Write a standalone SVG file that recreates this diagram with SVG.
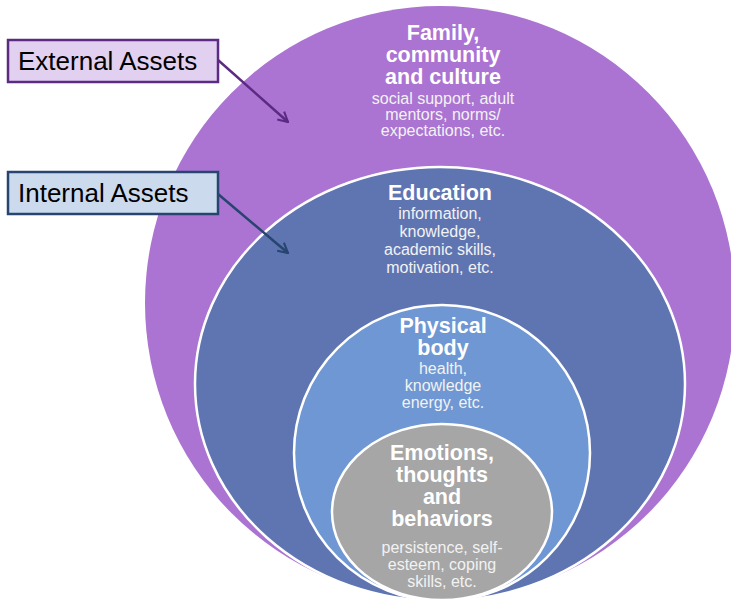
<svg xmlns="http://www.w3.org/2000/svg" width="731" height="602" viewBox="0 0 731 602">
  <defs>
    <style>
      .ring { stroke: #ffffff; stroke-width: 2.5; }
      .title { font-family: "Liberation Sans", Arial, sans-serif; font-weight: bold; font-size: 21.5px; fill: #ffffff; text-anchor: middle; }
      .sub { font-family: "Liberation Sans", Arial, sans-serif; font-size: 16px; fill: #f2f2f2; text-anchor: middle; }
      .label { font-family: "Liberation Sans", Arial, sans-serif; font-size: 26px; fill: #000000; }
    </style>
    <marker id="headExt" viewBox="0 0 10 10" refX="9" refY="5" markerWidth="13" markerHeight="13" orient="auto" markerUnits="userSpaceOnUse">
      <path d="M1.5,1 L9,5 L1.5,9" fill="none" stroke="#5b2a82" stroke-width="1.6"/>
    </marker>
    <marker id="headInt" viewBox="0 0 10 10" refX="9" refY="5" markerWidth="13" markerHeight="13" orient="auto" markerUnits="userSpaceOnUse">
      <path d="M1.5,1 L9,5 L1.5,9" fill="none" stroke="#27456f" stroke-width="1.6"/>
    </marker>
  </defs>

  <rect width="731" height="602" fill="#ffffff"/>

  <g id="family">
    <ellipse cx="440" cy="303" rx="295" ry="297" fill="#ab74d2"/>
    <text class="title" x="443" y="40">Family,</text>
    <text class="title" x="443" y="62">community</text>
    <text class="title" x="443" y="84">and culture</text>
    <text class="sub" x="443" y="104">social support, adult</text>
    <text class="sub" x="443" y="120">mentors, norms/</text>
    <text class="sub" x="443" y="136">expectations, etc.</text>
  </g>

  <g id="education">
    <ellipse class="ring" cx="440" cy="384" rx="245" ry="217" fill="#5f75b2"/>
    <text class="title" x="440" y="200">Education</text>
    <text class="sub" x="440" y="219">information,</text>
    <text class="sub" x="440" y="237">knowledge,</text>
    <text class="sub" x="440" y="255">academic skills,</text>
    <text class="sub" x="440" y="273">motivation, etc.</text>
  </g>

  <g id="physical">
    <ellipse class="ring" cx="442" cy="453" rx="148" ry="148" fill="#6e97d3"/>
    <text class="title" x="443" y="333">Physical</text>
    <text class="title" x="443" y="355">body</text>
    <text class="sub" x="443" y="374">health,</text>
    <text class="sub" x="443" y="391">knowledge</text>
    <text class="sub" x="443" y="408">energy, etc.</text>
  </g>

  <g id="emotions">
    <ellipse class="ring" cx="442" cy="512" rx="110" ry="88" fill="#a6a6a6"/>
    <text class="title" x="442" y="460">Emotions,</text>
    <text class="title" x="442" y="482">thoughts</text>
    <text class="title" x="442" y="504">and</text>
    <text class="title" x="442" y="526">behaviors</text>
    <text class="sub" x="442" y="553">persistence, self-</text>
    <text class="sub" x="442" y="570">esteem, coping</text>
    <text class="sub" x="442" y="587">skills, etc.</text>
  </g>

  <g id="connectors" fill="none" stroke-width="2.5">
    <line x1="218" y1="60" x2="288" y2="122" stroke="#5b2a82" marker-end="url(#headExt)"/>
    <line x1="218" y1="194" x2="288" y2="253" stroke="#27456f" marker-end="url(#headInt)"/>
  </g>

  <g id="external-assets">
    <rect x="8" y="40" width="210" height="42" fill="#e2d0f0" stroke="#5b2a82" stroke-width="2.5"/>
    <text class="label" x="18" y="70">External Assets</text>
  </g>

  <g id="internal-assets">
    <rect x="8" y="172" width="210" height="42" fill="#ccdaee" stroke="#27456f" stroke-width="2.5"/>
    <text class="label" x="18" y="202">Internal Assets</text>
  </g>
</svg>
